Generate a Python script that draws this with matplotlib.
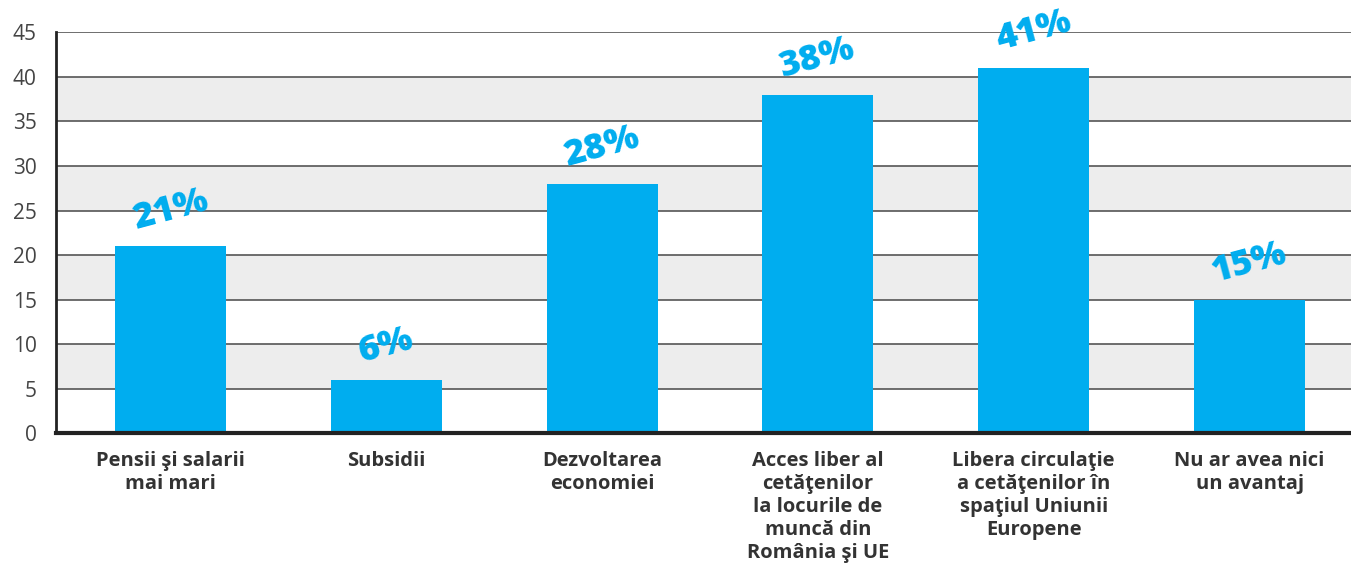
import numpy as np
import matplotlib.pyplot as plt

categories = ['Pensii şi salarii\nmai mari', 'Subsidii', 'Dezvoltarea\neconomiei',
              'Acces liber al\ncetăţenilor\nla locurile de\nmuncă din\nRomânia şi UE',
              'Libera circulaţie\na cetăţenilor în\nspaţiul Uniunii\nEuropene',
              'Nu ar avea nici\nun avantaj']
values = [21, 6, 28, 38, 41, 15]
yticks = [0, 5, 10, 15, 20, 25, 30, 35, 40, 45]

blue = '#00adef'

fig = plt.figure(figsize=(13.51, 5.65), dpi=100)
ax = fig.add_axes([0.0415, 0.2336, 0.9585, 0.7089])

# alternating bands
for lo in range(5, 40, 10):
    ax.axhspan(lo, lo + 5, color='#ededed', zorder=0, lw=0)
for t in yticks[1:]:
    ax.axhline(t, color='#555555', lw=1.2, zorder=1)

x = np.arange(len(categories))
ax.bar(x, values, width=0.515, color=blue, zorder=2)

for xi, v in zip(x, values):
    ax.text(xi, v + 1.0, f'{v}%', ha='center', va='bottom', rotation=15,
            fontsize=26, fontweight='heavy', color=blue, family='Open Sans', zorder=3)

ax.set_xlim(-0.53, 5.47)
ax.set_ylim(0, 45)
ax.set_yticks(yticks)
ax.set_yticklabels([str(t) for t in yticks], fontsize=15, color='#444444', family='Open Sans')
ax.set_xticks(x)
ax.set_xticklabels(categories, fontsize=14.5, fontweight='bold', color='#333333',
                   family='Open Sans', linespacing=1.2, va='top')
ax.tick_params(axis='both', length=0)
ax.tick_params(axis='x', pad=13)
ax.tick_params(axis='y', pad=14)

for s in ['top', 'right']:
    ax.spines[s].set_visible(False)
ax.spines['left'].set_linewidth(2)
ax.spines['left'].set_color('#222222')
ax.spines['bottom'].set_linewidth(3)
ax.spines['bottom'].set_color('#222222')
ax.spines['left'].set_zorder(4)
ax.spines['bottom'].set_zorder(4)

fig.savefig('out.png', dpi=100)
